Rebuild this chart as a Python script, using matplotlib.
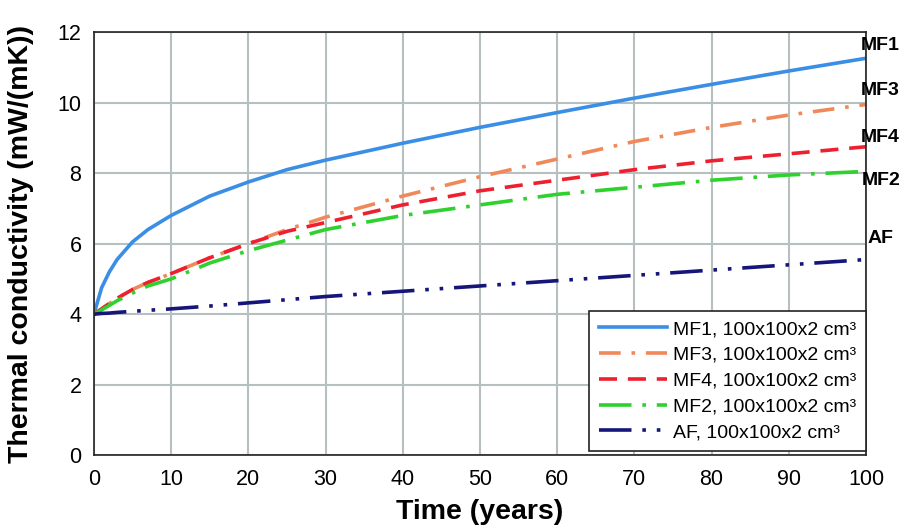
import matplotlib.pyplot as plt
import numpy as np

plt.rcParams['font.family'] = ['Liberation Sans', 'DejaVu Sans']

years = [0, 1, 2, 3, 5, 7, 10, 15, 20, 25, 30, 40, 50, 60, 70, 80, 90, 100]

mf1 = [4.0, 4.75, 5.2, 5.55, 6.05, 6.4, 6.8, 7.35, 7.75, 8.1, 8.37, 8.85, 9.3, 9.72, 10.13, 10.52, 10.9, 11.26]
mf3 = [4.0, 4.15, 4.3, 4.45, 4.7, 4.9, 5.15, 5.6, 6.0, 6.4, 6.75, 7.35, 7.9, 8.4, 8.9, 9.3, 9.65, 9.95]
mf4 = [4.0, 4.15, 4.3, 4.45, 4.7, 4.9, 5.15, 5.6, 6.0, 6.35, 6.6, 7.1, 7.5, 7.8, 8.1, 8.35, 8.55, 8.75]
mf2 = [4.0, 4.12, 4.25, 4.38, 4.6, 4.8, 5.0, 5.45, 5.8, 6.1, 6.4, 6.8, 7.1, 7.4, 7.6, 7.8, 7.95, 8.05]
af = [4.0, 4.02, 4.03, 4.05, 4.08, 4.11, 4.15, 4.23, 4.32, 4.41, 4.5, 4.65, 4.8, 4.95, 5.1, 5.25, 5.4, 5.55]

series = [
    ("MF1", mf1, "#3a8ee6", "-"),
    ("MF3", mf3, "#f0885a", (0, (6, 3, 1, 3))),
    ("MF4", mf4, "#ee2030", (0, (5, 3))),
    ("MF2", mf2, "#2ed12e", (0, (9, 3, 1, 3))),
    ("AF", af, "#15157a", (0, (9, 3, 1, 3, 1, 3))),
]
end_labels = {"MF1": 11.62, "MF3": 10.35, "MF4": 9.0, "MF2": 7.8, "AF": 6.15}

fig = plt.figure(figsize=(9.03, 5.28), dpi=100)
ax = fig.add_axes([0.104, 0.138, 0.855, 0.801])

for name, vals, col, ls in series:
    ax.plot(years, vals, color=col, linestyle=ls, linewidth=2.6,
            label=name + ", 100x100x2 cm³")
    ax.text(101.9, end_labels[name], name, fontsize=14, fontweight="bold",
            ha="center", va="center", clip_on=False)

ax.set_xlim(0, 100)
ax.set_ylim(0, 12)
ax.set_xticks(np.arange(0, 101, 10))
ax.set_yticks(np.arange(0, 13, 2))
ax.grid(True, color="#b8bfc0", linewidth=1.5)
ax.tick_params(length=0, labelsize=15.5)
ax.tick_params(axis="x", pad=10)
ax.tick_params(axis="y", pad=9)
for sp in ax.spines.values():
    sp.set_color("#222222")
    sp.set_linewidth(1.2)

ax.set_xlabel("Time (years)", fontsize=20.5, fontweight="bold")
ax.set_ylabel("Thermal conductivity (mW/(mK))", fontsize=20.5, fontweight="bold")
ax.xaxis.set_label_coords(0.5, -0.103)
ax.yaxis.set_label_coords(-0.078, 0.5)

leg = ax.legend(loc="lower right", fontsize=14, frameon=True, fancybox=False,
                handlelength=3.5, handletextpad=0.3, borderpad=0.5,
                labelspacing=0.42, bbox_to_anchor=(1.0, 0.01), borderaxespad=0)
leg.get_frame().set_edgecolor("#222222")
leg.get_frame().set_linewidth(1.2)
leg.get_frame().set_alpha(1)

fig.savefig("out.png", dpi=100)
